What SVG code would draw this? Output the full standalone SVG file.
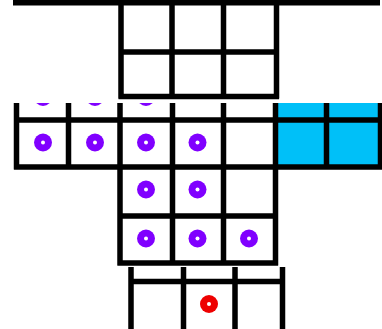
<svg xmlns="http://www.w3.org/2000/svg" width="382" height="329" viewBox="0 0 382 329">
<style>
.ln{stroke:#000;stroke-width:5.5;fill:none}
.pu{fill:#8000ff}
.rd{fill:#ee0000}
.dot{fill:#fff}
</style>
<defs>
<clipPath id="midclip"><rect x="0" y="103" width="382" height="163"/></clipPath>
</defs>
<rect width="382" height="329" fill="#fff"/>
<!-- top slice -->
<g id="top">
<rect x="13" y="0" width="367" height="5.5" fill="#000"/>
<path class="ln" d="M121 0V98.5M172 0V98.5M223.5 0V98.5M276.5 0V98.5M118.5 52H279M118.5 96.5H279"/>
</g>
<!-- middle slice -->
<g id="middle" clip-path="url(#midclip)">
<rect x="276" y="103" width="106" height="64" fill="#00c0f8"/>
<path class="ln" d="M14 120H382M14 167H382M16.5 103V169.5M68.5 103V169.5M120 103V265.5M172.5 103V265.5M223.5 103V265.5M275.5 103V265.5M326.5 103V169.5M380.5 103V169.5M117.5 216H278M117.5 263H278"/>
<g id="purple">
<circle class="pu" cx="43" cy="97" r="9"/>
<circle class="pu" cx="95" cy="97" r="9"/>
<circle class="pu" cx="146" cy="97" r="9"/>
<circle class="pu" cx="43" cy="142.5" r="9"/><circle class="dot" cx="43" cy="142.5" r="2"/>
<circle class="pu" cx="95" cy="142.5" r="9"/><circle class="dot" cx="95" cy="142.5" r="2"/>
<circle class="pu" cx="146" cy="142.5" r="9"/><circle class="dot" cx="146" cy="142.5" r="2"/>
<circle class="pu" cx="197.5" cy="142.5" r="9"/><circle class="dot" cx="197.5" cy="142.5" r="2"/>
<circle class="pu" cx="146" cy="189.5" r="9"/><circle class="dot" cx="146" cy="189.5" r="2"/>
<circle class="pu" cx="197.5" cy="189.5" r="9"/><circle class="dot" cx="197.5" cy="189.5" r="2"/>
<circle class="pu" cx="146" cy="238.5" r="9"/><circle class="dot" cx="146" cy="238.5" r="2"/>
<circle class="pu" cx="197.5" cy="238.5" r="9"/><circle class="dot" cx="197.5" cy="238.5" r="2"/>
<circle class="pu" cx="249" cy="238.5" r="9"/><circle class="dot" cx="249" cy="238.5" r="2"/>
</g>
</g>
<!-- bottom slice -->
<g id="bottom">
<path class="ln" d="M131 267V329M183.5 267V329M235 267V329M282.5 267V329M128.5 281.5H285"/>
<circle class="rd" cx="209" cy="304" r="9"/><circle class="dot" cx="209" cy="304" r="2"/>
</g>
</svg>
